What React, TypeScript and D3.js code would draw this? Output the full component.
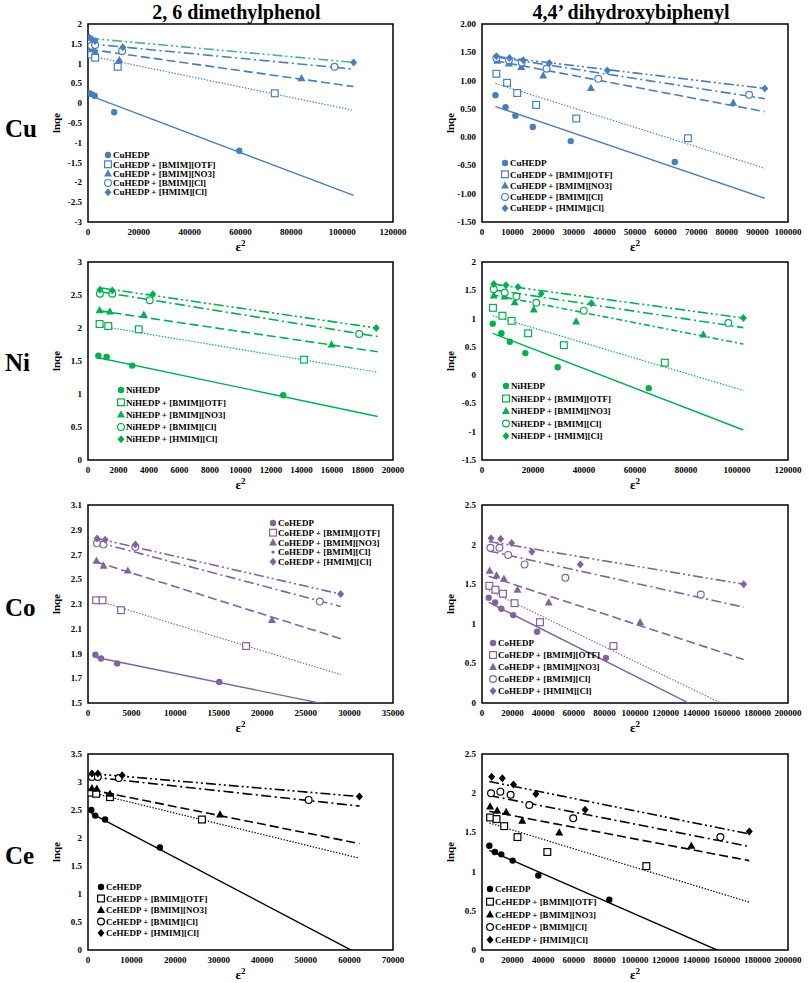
import React from "react";
import * as d3 from "d3";

// ---------- text ----------
const compounds = ["2, 6 dimethylphenol", "4,4\u2019 dihydroxybiphenyl"];
const metals = ["Cu", "Ni", "Co", "Ce"];
const seriesSuffixes = ["HEDP", "HEDP + [BMIM][OTF]", "HEDP + [BMIM][NO3]", "HEDP + [BMIM][Cl]", "HEDP + [HMIM][Cl]"];
const metalColors = ["#4a7ebb", "#00b050", "#8064a2", "#000000"];

// ---------- data: [epsilon^2, lnqe] points; trend lines [x0, y0, x1, y1] ----------
// Cu, 2,6 dimethylphenol
const cuDmpPoints = [
  [[500, 0.25], [1300, 0.23], [2600, 0.19], [10300, -0.23], [59500, -1.2]],
  [[500, 1.28], [1300, 1.23], [2800, 1.15], [11700, 0.92], [73500, 0.25]],
  [[500, 1.42], [1500, 1.36], [2800, 1.3], [12300, 1.09], [84000, 0.63]],
  [[500, 1.52], [1300, 1.45], [2800, 1.47], [13400, 1.32], [97000, 0.92]],
  [[500, 1.66], [1500, 1.62], [2800, 1.57], [13700, 1.41], [104500, 1.03]],
];
const cuDmpTrends = [
  [500, 0.2, 104500, -2.33],
  [500, 1.2, 104500, -0.18],
  [500, 1.36, 104500, 0.42],
  [500, 1.5, 104500, 0.86],
  [500, 1.64, 104500, 1.03],
];
// Cu, 4,4' dihydroxybiphenyl
const cuDhbPoints = [
  [[4400, 0.74], [7700, 0.53], [10900, 0.38], [16600, 0.18], [29000, -0.07], [63000, -0.44]],
  [[4700, 1.12], [8200, 0.96], [11500, 0.78], [17700, 0.57], [30800, 0.33], [67300, -0.02]],
  [[5000, 1.35], [8800, 1.3], [12800, 1.24], [20000, 1.09], [35600, 0.87], [82100, 0.61]],
  [[4700, 1.4], [8800, 1.36], [13000, 1.32], [21100, 1.21], [38000, 1.03], [87300, 0.75]],
  [[4700, 1.43], [9000, 1.4], [13500, 1.36], [22000, 1.31], [41000, 1.18], [92400, 0.86]],
];
const cuDhbTrends = [
  [4400, 0.54, 92400, -1.08],
  [4400, 0.95, 92400, -0.55],
  [4400, 1.35, 92400, 0.45],
  [4400, 1.42, 92400, 0.68],
  [4400, 1.43, 92400, 0.86],
];
// Ni, 2,6 dimethylphenol
const niDmpPoints = [
  [[680, 1.58], [1220, 1.56], [2900, 1.43], [12800, 0.98]],
  [[760, 2.06], [1330, 2.03], [3330, 1.98], [14160, 1.52]],
  [[760, 2.27], [1440, 2.25], [3660, 2.2], [15970, 1.75]],
  [[780, 2.52], [1590, 2.52], [4050, 2.42], [17780, 1.91]],
  [[780, 2.58], [1590, 2.57], [4250, 2.51], [18900, 2.0]],
];
const niDmpTrends = [
  [680, 1.55, 19000, 0.66],
  [760, 2.03, 19000, 1.33],
  [760, 2.26, 19000, 1.64],
  [780, 2.55, 19000, 1.87],
  [780, 2.61, 18900, 2.0],
];
// Ni, 4,4' dihydroxybiphenyl
const niDhbPoints = [
  [[4200, 0.91], [7600, 0.74], [10900, 0.59], [17000, 0.39], [29700, 0.14], [65400, -0.23]],
  [[4300, 1.19], [8000, 1.05], [11600, 0.96], [18100, 0.74], [32100, 0.53], [71700, 0.22]],
  [[4600, 1.41], [8900, 1.39], [12800, 1.29], [20300, 1.16], [36900, 0.95], [86800, 0.72]],
  [[4600, 1.52], [8900, 1.46], [13500, 1.39], [21300, 1.28], [39900, 1.14], [96600, 0.92]],
  [[4600, 1.61], [9400, 1.59], [14100, 1.56], [23200, 1.44], [42900, 1.27], [102500, 1.01]],
];
const niDhbTrends = [
  [4200, 0.74, 102500, -0.97],
  [4200, 1.05, 102500, -0.27],
  [4200, 1.42, 102500, 0.55],
  [4200, 1.51, 102500, 0.84],
  [4200, 1.61, 102500, 1.01],
];
// Co, 2,6 dimethylphenol
const coDmpPoints = [
  [[850, 1.89], [1490, 1.86], [3350, 1.82], [15060, 1.67]],
  [[930, 2.33], [1670, 2.33], [3790, 2.25], [18140, 1.96]],
  [[970, 2.65], [1780, 2.61], [4570, 2.57], [21100, 2.17]],
  [[1040, 2.79], [1780, 2.78], [5430, 2.76], [26600, 2.32]],
  [[1040, 2.83], [1970, 2.82], [5430, 2.78], [29000, 2.38]],
];
const coDmpTrends = [
  [850, 1.87, 29000, 1.465],
  [930, 2.33, 29000, 1.73],
  [970, 2.64, 29000, 2.02],
  [1040, 2.8, 29000, 2.28],
  [1040, 2.83, 29000, 2.38],
];
// Co, 4,4' dihydroxybiphenyl
const coDhbPoints = [
  [[4400, 1.33], [8600, 1.27], [12600, 1.19], [20400, 1.11], [36000, 0.9], [81000, 0.57]],
  [[4800, 1.48], [8800, 1.43], [13700, 1.38], [21300, 1.26], [37900, 1.02], [85900, 0.72]],
  [[5000, 1.67], [9500, 1.61], [14300, 1.57], [23200, 1.43], [43600, 1.27], [103400, 1.02]],
  [[5500, 1.96], [11400, 1.96], [17100, 1.87], [27800, 1.75], [54500, 1.58], [143000, 1.37]],
  [[5900, 2.08], [12200, 2.07], [19400, 2.02], [32600, 1.91], [64200, 1.75], [171000, 1.5]],
];
const coDhbTrends = [
  [4400, 1.27, 171000, -0.35],
  [4400, 1.42, 171000, -0.14],
  [4400, 1.6, 171000, 0.55],
  [4400, 1.92, 171000, 1.21],
  [4400, 2.04, 171000, 1.5],
];
// Ce, 2,6 dimethylphenol
const ceDmpPoints = [
  [[750, 2.5], [1660, 2.4], [3920, 2.33], [16500, 1.83]],
  [[750, 2.81], [1880, 2.79], [5050, 2.73], [26150, 2.33]],
  [[900, 2.89], [2030, 2.88], [5050, 2.79], [30300, 2.42]],
  [[900, 3.09], [2260, 3.09], [7080, 3.07], [50640, 2.68]],
  [[900, 3.15], [2260, 3.15], [7840, 3.12], [62300, 2.74]],
];
const ceDmpTrends = [
  [750, 2.44, 62300, -0.08],
  [750, 2.81, 62300, 1.64],
  [750, 2.86, 62300, 1.9],
  [750, 3.09, 62300, 2.57],
  [750, 3.15, 62300, 2.74],
];
// Ce, 4,4' dihydroxybiphenyl
const ceDhbPoints = [
  [[4800, 1.33], [8400, 1.25], [12600, 1.22], [20000, 1.14], [36800, 0.95], [83200, 0.64]],
  [[5300, 1.69], [9500, 1.67], [14500, 1.58], [23200, 1.44], [42700, 1.25], [107400, 1.07]],
  [[5300, 1.83], [9900, 1.78], [15800, 1.76], [26300, 1.65], [50500, 1.5], [136800, 1.33]],
  [[5900, 2.0], [12000, 2.02], [18700, 1.98], [30900, 1.85], [59600, 1.68], [155800, 1.44]],
  [[6300, 2.21], [13300, 2.19], [20600, 2.11], [35200, 1.99], [67400, 1.79], [174700, 1.51]],
];
const ceDhbTrends = [
  [4800, 1.27, 174700, -0.18],
  [4800, 1.62, 174700, 0.61],
  [4800, 1.77, 174700, 1.14],
  [4800, 1.97, 174700, 1.32],
  [4800, 2.15, 174700, 1.48],
];

// axis settings: x [min, max, step]; y [min, max, step, decimals]
const xAxes = [
  [0, 120000, 20000], [0, 100000, 10000],
  [0, 20000, 2000], [0, 120000, 20000],
  [0, 35000, 5000], [0, 200000, 20000],
  [0, 70000, 10000], [0, 200000, 20000],
];
const yAxes = [
  [-3, 2, 0.5, -1], [-1.5, 2, 0.5, 2],
  [0, 3, 0.5, -1], [-1.5, 2, 0.5, -1],
  [1.5, 3.1, 0.2, 1], [0, 2.5, 0.5, -1],
  [0, 3.5, 0.5, -1], [0, 2.5, 0.5, -1],
];

const panelPoints = [cuDmpPoints, cuDhbPoints, niDmpPoints, niDhbPoints, coDmpPoints, coDhbPoints, ceDmpPoints, ceDhbPoints];
const panelTrends = [cuDmpTrends, cuDhbTrends, niDmpTrends, niDhbTrends, coDmpTrends, coDhbTrends, ceDmpTrends, ceDhbTrends];

// ---------- layout ----------
const colX = [[88, 393], [482, 788]];
const rowY = [[24, 222], [262, 460], [505, 703], [754, 950]];
const rowLabelY = [128, 362, 607, 855];
// legend [markerX, firstY, spacing]
const legendPos = [
  [108, 155, 9.3], [505, 163, 11.3],
  [121, 390, 12.3], [506, 386, 12.5],
  [273, 523, 9.7], [493, 643, 12],
  [101, 887, 11.5], [490, 889, 12.7],
];
const dashes = [null, "1.4,1.6", "9,4", "10,3.5,2,3.5", "10,3,2,3,2,3"];
const widths = [1.4, 1.2, 1.6, 1.6, 1.6];
const SERIF = "'Times New Roman', 'Liberation Serif', serif";

function Marker({ type, cx, cy, color, small }: any) {
  if (type === 0) return <circle cx={cx} cy={cy} r={3.2} fill={color} />;
  if (type === 1)
    return <rect x={cx - 3.4} y={cy - 3.4} width={6.8} height={6.8} fill="#fff" stroke={color} strokeWidth={1.2} />;
  if (type === 2)
    return <path d={`M${cx},${cy - 4.2}L${cx + 4},${cy + 3}L${cx - 4},${cy + 3}Z`} fill={color} />;
  if (type === 3)
    return small ? (
      <circle cx={cx} cy={cy} r={1.6} fill={color} />
    ) : (
      <circle cx={cx} cy={cy} r={3.4} fill="#fff" stroke={color} strokeWidth={1.2} />
    );
  return <path d={`M${cx},${cy - 4}L${cx + 3.5},${cy}L${cx},${cy + 4}L${cx - 3.5},${cy}Z`} fill={color} />;
}

function fmt(v: number, dec: number) {
  if (dec >= 0) return v.toFixed(dec);
  return String(+v.toFixed(6));
}

function Panel({ idx }: { idx: number }) {
  const row = Math.floor(idx / 2);
  const col = idx % 2;
  const [x0, x1] = colX[col];
  const [y0, y1] = rowY[row];
  const [xmin, xmax, xstep] = xAxes[idx];
  const [ymin, ymax, ystep, ydec] = yAxes[idx];
  const xs = d3.scaleLinear().domain([xmin, xmax]).range([x0, x1]);
  const ys = d3.scaleLinear().domain([ymin, ymax]).range([y1, y0]);
  const xt = d3.range(Math.round((xmax - xmin) / xstep) + 1).map((i) => xmin + i * xstep);
  const yt = d3.range(Math.round((ymax - ymin) / ystep) + 1).map((i) => +(ymin + i * ystep).toFixed(6));
  const color = metalColors[row];
  const pts = panelPoints[idx];
  const trends = panelTrends[idx];
  const clipId = `clip${idx}`;
  const line = d3.line<number[]>().x((d) => xs(d[0])).y((d) => ys(d[1]));
  const [lx, ly, ldy] = legendPos[idx];
  const smallCl = idx === 4;
  const dashFor = (i: number) => (idx === 3 && i === 2 ? "6,3,2,3" : dashes[i] || undefined);
  return (
    <g>
      <defs>
        <clipPath id={clipId}>
          <rect x={x0} y={y0} width={x1 - x0} height={y1 - y0} />
        </clipPath>
      </defs>
      <rect x={x0} y={y0} width={x1 - x0} height={y1 - y0} fill="#fff" stroke="#000" strokeWidth={1.5} />
      {yt.map((v) => (
        <text key={"y" + v} x={x0 - 6} y={ys(v) + 3} textAnchor="end" fontSize={9} fontWeight="bold" fontFamily={SERIF}>
          {fmt(v, ydec)}
        </text>
      ))}
      {xt.map((v) => (
        <text key={"x" + v} x={xs(v)} y={y1 + 13} textAnchor="middle" fontSize={9} fontWeight="bold" fontFamily={SERIF}>
          {String(v)}
        </text>
      ))}
      <text
        transform={`translate(${x0 - 28},${(y0 + y1) / 2}) rotate(-90)`}
        textAnchor="middle"
        fontSize={11}
        fontWeight="bold"
        fontFamily={SERIF}
      >
        lnqe
      </text>
      <text x={(x0 + x1) / 2} y={y1 + 29} textAnchor="middle" fontSize={13} fontWeight="bold" fontFamily={SERIF}>
        ε<tspan dy={-5} fontSize={9}>2</tspan>
      </text>
      <g clipPath={`url(#${clipId})`}>
        {trends.map((t, i) => (
          <path
            key={"t" + i}
            d={line([[t[0], t[1]], [t[2], t[3]]]) || ""}
            fill="none"
            stroke={idx === 0 && i === 4 ? "#4bb08e" : color}
            strokeWidth={widths[i]}
            strokeDasharray={dashFor(i)}
          />
        ))}
        {pts.map((s, i) =>
          s.map((p, j) => <Marker key={`m${i}-${j}`} type={i} cx={xs(p[0])} cy={ys(p[1])} color={color} />)
        )}
      </g>
      {seriesSuffixes.map((s, i) => (
        <g key={"l" + i}>
          <Marker type={i} cx={lx} cy={ly + i * ldy} color={color} small={smallCl} />
          <text x={lx + 5} y={ly + i * ldy + 3.2} fontSize={9} fontWeight="bold" fontFamily={SERIF}>
            {metals[row] + s}
          </text>
        </g>
      ))}
    </g>
  );
}

export default function App() {
  return (
    <svg width={809} height={983} style={{ position: "absolute", left: 0, top: 0, background: "#fff" }}>
      <rect width={809} height={983} fill="#fff" />
      {compounds.map((c, i) => (
        <text
          key={c}
          x={(colX[i][0] + colX[i][1]) / 2 - 4}
          y={19}
          textAnchor="middle"
          fontSize={20}
          fontWeight="bold"
          fontFamily={SERIF}
        >
          {c}
        </text>
      ))}
      {metals.map((m, i) => (
        <text key={m} x={5} y={rowLabelY[i] + 9} fontSize={25} fontWeight="bold" fontFamily={SERIF}>
          {m}
        </text>
      ))}
      {d3.range(8).map((i) => (
        <Panel key={i} idx={i} />
      ))}
    </svg>
  );
}
